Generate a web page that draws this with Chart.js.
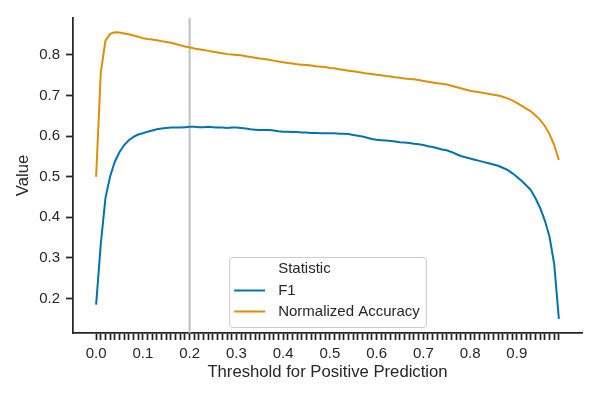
<!DOCTYPE html>
<html>
<head>
<meta charset="utf-8">
<script src="https://cdn.jsdelivr.net/npm/chart.js@4/dist/chart.umd.min.js"></script>
<style>
  html, body { margin:0; padding:0; background:#fff; }
  #wrap { width:600px; height:400px; }
</style>
</head>
<body>
<div id="wrap"><canvas id="chart" width="600" height="400"></canvas></div>
<script>
// Threshold sweep — F1 vs normalized accuracy
const FONT = '"Liberation Sans", Arial, sans-serif';
const INK = '#262626';
const BLUE = '#0173b2';
const ORANGE = '#de8f05';

const thresholds = [
  0.00,0.01,0.02,0.03,0.04,0.05,0.06,0.07,0.08,0.09,
  0.10,0.11,0.12,0.13,0.14,0.15,0.16,0.17,0.18,0.19,
  0.20,0.21,0.22,0.23,0.24,0.25,0.26,0.27,0.28,0.29,
  0.30,0.31,0.32,0.33,0.34,0.35,0.36,0.37,0.38,0.39,
  0.40,0.41,0.42,0.43,0.44,0.45,0.46,0.47,0.48,0.49,
  0.50,0.51,0.52,0.53,0.54,0.55,0.56,0.57,0.58,0.59,
  0.60,0.61,0.62,0.63,0.64,0.65,0.66,0.67,0.68,0.69,
  0.70,0.71,0.72,0.73,0.74,0.75,0.76,0.77,0.78,0.79,
  0.80,0.81,0.82,0.83,0.84,0.85,0.86,0.87,0.88,0.89,
  0.90,0.91,0.92,0.93,0.94,0.95,0.96,0.97,0.98,0.99
];

const f1 = [
  0.185,0.335,0.448,0.501,0.537,0.561,0.578,0.590,0.598,0.604,
  0.607,0.611,0.614,0.617,0.619,0.620,0.621,0.621,0.621,0.622,
  0.623,0.623,0.622,0.622,0.623,0.622,0.621,0.621,0.620,0.621,
  0.621,0.620,0.619,0.617,0.616,0.615,0.615,0.615,0.614,0.612,
  0.611,0.611,0.610,0.610,0.609,0.609,0.608,0.608,0.607,0.607,
  0.607,0.607,0.606,0.606,0.605,0.603,0.601,0.599,0.596,0.593,
  0.591,0.590,0.589,0.588,0.587,0.585,0.584,0.583,0.581,0.580,
  0.578,0.575,0.573,0.570,0.567,0.565,0.561,0.556,0.551,0.548,
  0.545,0.542,0.539,0.536,0.533,0.530,0.527,0.522,0.517,0.509,
  0.500,0.490,0.479,0.467,0.447,0.423,0.392,0.352,0.285,0.150
];

const normAcc = [
  0.500,0.758,0.835,0.852,0.856,0.855,0.853,0.851,0.848,0.845,
  0.841,0.839,0.838,0.836,0.834,0.832,0.830,0.827,0.824,0.821,
  0.819,0.816,0.814,0.812,0.810,0.808,0.806,0.804,0.802,0.801,
  0.800,0.799,0.797,0.795,0.793,0.791,0.790,0.788,0.786,0.784,
  0.782,0.780,0.779,0.777,0.776,0.775,0.774,0.772,0.771,0.770,
  0.768,0.767,0.765,0.763,0.761,0.760,0.758,0.756,0.754,0.753,
  0.751,0.750,0.748,0.747,0.745,0.744,0.742,0.741,0.740,0.738,
  0.736,0.734,0.732,0.730,0.729,0.727,0.724,0.721,0.718,0.715,
  0.712,0.710,0.708,0.706,0.704,0.702,0.700,0.697,0.693,0.688,
  0.682,0.675,0.668,0.661,0.651,0.640,0.625,0.605,0.578,0.541
];

const yTicks = [0.2,0.3,0.4,0.5,0.6,0.7,0.8];
const cutoff = 0.2;
const legendTitle = 'Statistic';

// gray line at the chosen cutoff, behind the curves
const cutoffLine = {
  id:'cutoffLine',
  beforeDatasetsDraw(chart){
    const {ctx, chartArea:a, scales:{x}} = chart;
    const px = x.getPixelForValue(cutoff);
    ctx.save();
    ctx.strokeStyle = '#bfbfbf';
    ctx.lineWidth = 2;
    ctx.beginPath();
    ctx.moveTo(px, a.top); ctx.lineTo(px, a.bottom);
    ctx.stroke();
    ctx.restore();
  }
};

// seaborn-ish legend box, lower center of the axes
const boxLegend = {
  id:'boxLegend',
  afterDraw(chart){
    const {ctx, chartArea:a} = chart;
    const sets = chart.data.datasets;
    ctx.save();
    ctx.font = '15px ' + FONT;
    const textW = Math.max(ctx.measureText(legendTitle).width, ...sets.map(d => ctx.measureText(d.label).width));
    const w = 49 + textW + 6, h = 70;
    const x0 = (a.left + a.right)/2 - w/2, y0 = a.bottom - 6 - h;
    ctx.beginPath();
    ctx.roundRect(x0+0.5, y0+0.5, w, h, 3);
    ctx.fillStyle = 'rgba(255,255,255,0.8)';
    ctx.fill();
    ctx.strokeStyle = '#cccccc';
    ctx.lineWidth = 1;
    ctx.stroke();
    ctx.fillStyle = INK;
    ctx.textBaseline = 'middle';
    ctx.textAlign = 'left';
    ctx.fillText(legendTitle, x0 + 49, y0 + 12);
    sets.forEach((d, i) => {
      const cy = y0 + 33.5 + i*21;
      ctx.strokeStyle = d.borderColor;
      ctx.lineWidth = 2;
      ctx.beginPath();
      ctx.moveTo(x0 + 5, cy); ctx.lineTo(x0 + 36, cy);
      ctx.stroke();
      ctx.fillText(d.label, x0 + 49, cy);
    });
    ctx.restore();
  }
};

const axisCommon = {
  grid:{ display:true, drawOnChartArea:false, drawTicks:true, tickLength:7, tickWidth:1.75, tickColor:INK },
  border:{ display:true, color:INK, width:1.75 },
};

new Chart(document.getElementById('chart').getContext('2d'), {
  type:'line',
  data:{ datasets:[
    { label:'F1', data: thresholds.map((t,i) => ({x:t, y:f1[i]})),
      borderColor:BLUE, borderWidth:2, pointRadius:0, tension:0, fill:false },
    { label:'Normalized Accuracy', data: thresholds.map((t,i) => ({x:t, y:normAcc[i]})),
      borderColor:ORANGE, borderWidth:2, pointRadius:0, tension:0, fill:false },
  ]},
  options:{
    responsive:false, animation:false, devicePixelRatio:1,
    layout:{ padding:{ top:18, right:18, left:0, bottom:0 } },
    plugins:{ legend:{display:false}, tooltip:{enabled:false} },
    scales:{
      x:{ type:'linear', min:-0.0495, max:1.0395, ...axisCommon,
        afterBuildTicks:(s) => { s.ticks = thresholds.map(v => ({value:v})); },
        afterFit:(s) => { s.height = 67; },
        ticks:{ autoSkip:false, maxRotation:0, minRotation:0, padding:5, color:INK,
          font:{family:FONT, size:15},
          callback:(v, i) => i % 10 === 0 ? Number(v).toFixed(1) : '' },
        title:{ display:true, text:'Threshold for Positive Prediction', color:INK,
          font:{family:FONT, size:16.7}, padding:{top:0, bottom:18} }
      },
      y:{ type:'linear', min:0.115, max:0.891, ...axisCommon,
        afterBuildTicks:(s) => { s.ticks = yTicks.map(v => ({value:v})); },
        afterFit:(s) => { s.width = 73; },
        ticks:{ padding:6, color:INK, font:{family:FONT, size:15},
          callback:(v) => Number(v).toFixed(1) },
        title:{ display:true, text:'Value', color:INK,
          font:{family:FONT, size:16.7}, padding:{top:13, bottom:0} }
      }
    }
  },
  plugins:[cutoffLine, boxLegend]
});
</script>
</body>
</html>
